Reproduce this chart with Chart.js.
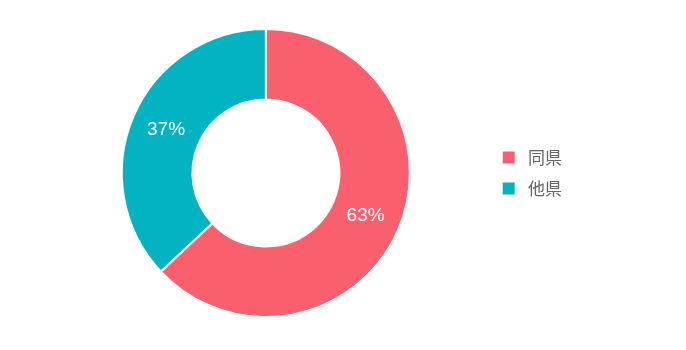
<!DOCTYPE html>
<html>
<head>
<meta charset="utf-8">
<script src="https://cdn.jsdelivr.net/npm/chart.js@4"></script>
<style>
  html, body { margin: 0; padding: 0; background: #fff; }
  #wrap { width: 686px; height: 350px; }
</style>
</head>
<body>
<div id="wrap"><canvas id="pie"></canvas></div>
<script>
// données
const categories = ["同県", "他県"];
const values = [63, 37];
const colors = ["#F95F6C", "#02B3C1"];

// étiquettes % au centre de chaque arc
const percentLabels = {
  id: 'percentLabels',
  afterDatasetsDraw(chart) {
    const ctx = chart.ctx;
    const meta = chart.getDatasetMeta(0);
    const total = values.reduce((a, b) => a + b, 0);
    ctx.save();
    ctx.fillStyle = '#fff';
    ctx.font = '19px "Liberation Sans", Arial, sans-serif';
    ctx.textAlign = 'center';
    ctx.textBaseline = 'middle';
    meta.data.forEach((arc, i) => {
      const p = arc.tooltipPosition();
      ctx.fillText(Math.round(values[i] / total * 100) + '%', p.x, p.y);
    });
    ctx.restore();
  }
};

new Chart(document.getElementById('pie').getContext('2d'), {
  type: 'doughnut',
  data: {
    labels: categories,
    datasets: [{
      data: values,
      backgroundColor: colors,
      borderColor: '#fff',
      borderWidth: 2
    }]
  },
  options: {
    responsive: true,
    maintainAspectRatio: false,
    animation: false,
    cutout: '51%',
    layout: { padding: { left: 44, right: 114, top: 28, bottom: 32 } },
    plugins: {
      tooltip: { enabled: false },
      legend: {
        position: 'right',
        labels: {
          boxWidth: 14,
          boxHeight: 14,
          padding: 14,
          color: '#666',
          font: { size: 17, family: '"Noto Sans CJK JP", sans-serif' },
          generateLabels(chart) {
            // espace en plus entre le carré et le texte
            return Chart.overrides.doughnut.plugins.legend.labels.generateLabels(chart)
              .map(item => ({ ...item, text: ' ' + item.text }));
          }
        }
      }
    }
  },
  plugins: [percentLabels]
});
</script>
</body>
</html>
